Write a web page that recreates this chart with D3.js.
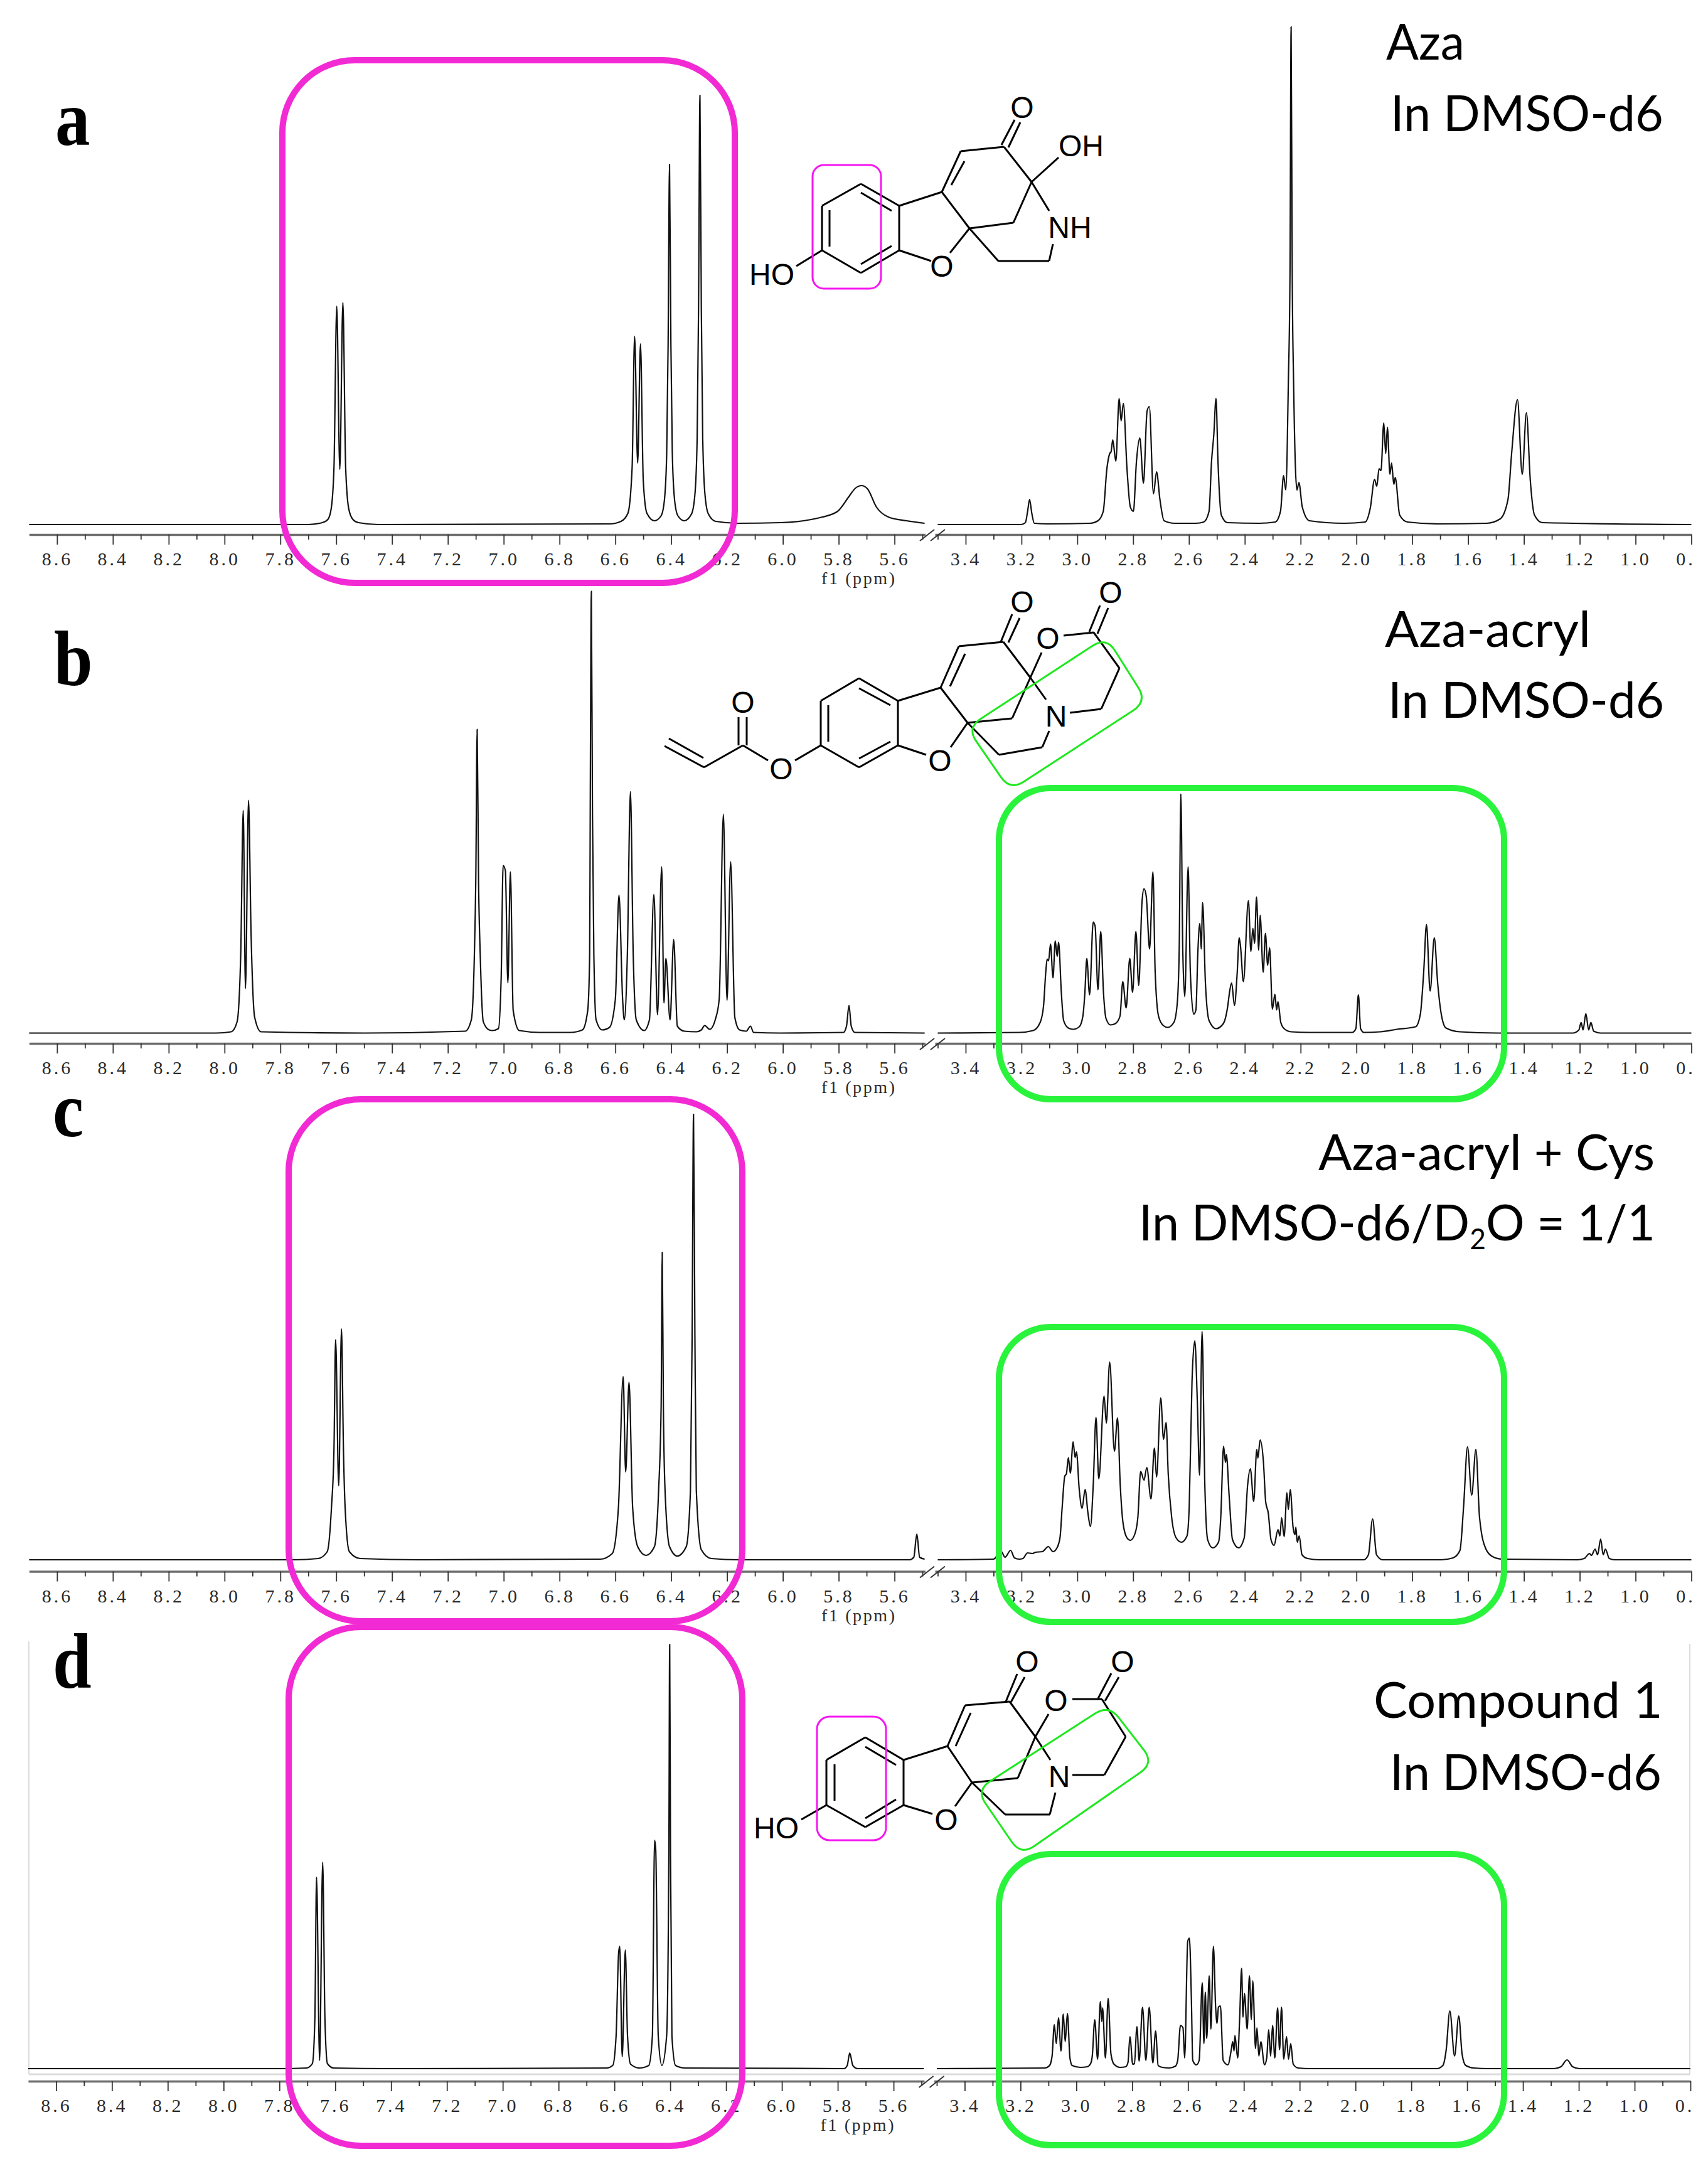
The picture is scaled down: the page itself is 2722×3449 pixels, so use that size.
<!DOCTYPE html>
<html>
<head>
<meta charset="utf-8">
<title>1H NMR spectra</title>
<script src="https://cdn.jsdelivr.net/npm/d3@7"></script>
<style>
html, body { margin: 0; padding: 0; background: #fff; }
svg { display: block; }
</style>
</head>
<body>
<div id="chart"></div>
<script>
// Spectra as [ppm, intensity]
const spectrumALeft = [[8.7,0],[7.7,0],[7.65,3],[7.63,8],[7.618,25],[7.608,90],[7.598,348],[7.587,88],[7.576,354],[7.566,90],[7.555,25],[7.54,8],[7.52,3],[7.45,0],[6.62,1],[6.58,5],[6.555,18],[6.54,90],[6.531,300],[6.52,98],[6.51,288],[6.5,70],[6.487,18],[6.46,6],[6.436,14],[6.424,40],[6.416,115],[6.411,287],[6.406,574],[6.401,287],[6.396,115],[6.388,40],[6.376,14],[6.353,6],[6.327,17],[6.315,48],[6.307,137],[6.302,342],[6.297,684],[6.292,342],[6.287,137],[6.279,48],[6.267,17],[6.24,5],[6.159,2],[6.009,3],[5.858,12],[5.804,21],[5.761,46],[5.74,58],[5.718,62],[5.697,57],[5.665,28],[5.622,12],[5.557,6],[5.492,2]];
const spectrumARight = [[3.5,0],[3.201,0],[3.186,3],[3.178,21],[3.171,40],[3.163,18],[3.154,2],[3.106,1],[2.954,2],[2.926,6],[2.907,21],[2.894,89],[2.884,113],[2.879,116],[2.873,135],[2.862,101],[2.85,201],[2.843,165],[2.835,193],[2.822,89],[2.81,28],[2.799,21],[2.788,101],[2.776,138],[2.763,66],[2.75,181],[2.742,188],[2.727,49],[2.716,84],[2.704,40],[2.689,6],[2.651,2],[2.575,2],[2.547,4],[2.528,21],[2.519,101],[2.511,143],[2.503,201],[2.496,101],[2.484,15],[2.462,3],[2.348,2],[2.291,4],[2.272,21],[2.261,78],[2.253,55],[2.244,224],[2.238,400],[2.234,793],[2.23,400],[2.225,224],[2.213,55],[2.206,67],[2.194,28],[2.168,6],[2.044,2],[1.969,4],[1.95,27],[1.935,72],[1.927,61],[1.919,89],[1.912,86],[1.902,162],[1.895,113],[1.889,155],[1.88,80],[1.874,98],[1.866,64],[1.861,75],[1.845,15],[1.817,4],[1.703,1],[1.533,2],[1.485,9],[1.457,40],[1.444,113],[1.423,199],[1.406,80],[1.391,178],[1.377,70],[1.362,15],[1.334,3],[0.8,0]];

const spectrumBLeft = [[8.7,0],[8.03,0],[7.976,2],[7.955,18],[7.942,125],[7.933,355],[7.925,71],[7.914,371],[7.905,160],[7.892,25],[7.869,2],[7.5,0],[7.138,3],[7.116,21],[7.105,125],[7.1,242],[7.095,484],[7.09,242],[7.084,125],[7.073,18],[7.052,5],[7.041,4],[7.019,7],[7.009,89],[7.002,267],[6.994,259],[6.985,80],[6.976,257],[6.966,36],[6.944,4],[6.869,1],[6.761,1],[6.718,5],[6.699,36],[6.692,125],[6.69,352],[6.686,704],[6.682,352],[6.677,125],[6.669,21],[6.647,5],[6.621,9],[6.6,54],[6.587,220],[6.574,54],[6.568,21],[6.557,125],[6.546,385],[6.536,125],[6.525,21],[6.497,4],[6.478,21],[6.462,221],[6.449,29],[6.434,265],[6.426,48],[6.419,119],[6.404,21],[6.391,149],[6.378,11],[6.353,3],[6.31,2],[6.292,5],[6.28,12],[6.262,6],[6.241,23],[6.228,54],[6.213,349],[6.2,52],[6.187,273],[6.172,25],[6.155,5],[6.131,3],[6.116,11],[6.105,1],[6.009,0],[5.783,1],[5.772,11],[5.763,44],[5.755,11],[5.742,1],[5.492,0]];
const spectrumBRight = [[3.5,0],[3.208,1],[3.158,4],[3.133,17],[3.121,43],[3.113,97],[3.108,118],[3.103,115],[3.096,142],[3.087,88],[3.079,147],[3.072,122],[3.067,145],[3.057,63],[3.049,20],[3.032,8],[3.015,6],[2.993,10],[2.98,27],[2.973,63],[2.966,119],[2.956,61],[2.943,177],[2.936,170],[2.926,69],[2.916,162],[2.906,63],[2.897,23],[2.881,13],[2.864,15],[2.847,27],[2.837,82],[2.825,40],[2.812,119],[2.802,65],[2.79,162],[2.78,76],[2.768,210],[2.761,230],[2.753,218],[2.741,134],[2.729,257],[2.721,97],[2.709,27],[2.692,12],[2.676,9],[2.654,17],[2.642,47],[2.635,130],[2.629,381],[2.622,130],[2.615,58],[2.603,265],[2.595,97],[2.583,30],[2.575,37],[2.568,130],[2.561,175],[2.556,134],[2.551,208],[2.541,80],[2.528,20],[2.503,7],[2.477,15],[2.461,43],[2.454,67],[2.447,80],[2.437,44],[2.427,97],[2.42,152],[2.415,137],[2.405,82],[2.387,211],[2.378,130],[2.371,167],[2.365,143],[2.358,217],[2.35,132],[2.345,188],[2.334,97],[2.326,159],[2.318,108],[2.311,136],[2.301,38],[2.292,62],[2.286,37],[2.281,50],[2.271,17],[2.259,7],[2.234,2],[2.167,1],[2.015,1],[2.002,7],[1.993,61],[1.985,7],[1.973,1],[1.914,2],[1.855,6],[1.788,10],[1.771,30],[1.759,97],[1.749,173],[1.736,67],[1.721,152],[1.709,80],[1.696,30],[1.679,8],[1.629,2],[1.494,0],[1.225,0],[1.203,5],[1.195,17],[1.188,5],[1.178,31],[1.168,5],[1.16,17],[1.15,3],[1.125,0],[0.8,0]];

const spectrumCLeft = [[8.7,0],[7.75,0],[7.665,2],[7.632,13],[7.617,83],[7.608,175],[7.602,351],[7.591,118],[7.581,368],[7.574,175],[7.568,83],[7.553,13],[7.514,2],[7.3,0],[6.654,1],[6.611,10],[6.589,83],[6.572,292],[6.563,140],[6.551,283],[6.538,83],[6.52,21],[6.49,7],[6.46,21],[6.445,111],[6.436,245],[6.432,490],[6.428,245],[6.422,111],[6.406,21],[6.378,6],[6.346,21],[6.331,111],[6.325,355],[6.32,710],[6.315,355],[6.31,111],[6.292,16],[6.256,2],[6.159,0],[5.546,0],[5.531,4],[5.52,41],[5.51,4],[5.492,1]];
const spectrumCRight = [[3.5,0],[3.301,1],[3.272,13],[3.259,4],[3.239,15],[3.225,3],[3.208,1],[3.195,2],[3.178,11],[3.161,10],[3.15,12],[3.125,13],[3.104,21],[3.087,13],[3.074,18],[3.062,35],[3.054,85],[3.045,133],[3.039,137],[3.032,163],[3.025,138],[3.015,188],[3.008,163],[3.003,172],[2.993,112],[2.983,82],[2.972,112],[2.962,75],[2.953,53],[2.943,118],[2.933,227],[2.923,129],[2.904,261],[2.896,218],[2.884,315],[2.867,173],[2.856,226],[2.846,118],[2.836,58],[2.822,35],[2.81,31],[2.793,42],[2.783,68],[2.773,141],[2.761,127],[2.751,147],[2.736,97],[2.724,178],[2.716,132],[2.701,258],[2.691,192],[2.682,219],[2.674,135],[2.662,68],[2.646,35],[2.627,28],[2.607,38],[2.599,85],[2.589,285],[2.579,349],[2.57,252],[2.562,135],[2.553,364],[2.543,118],[2.533,32],[2.515,19],[2.494,28],[2.486,68],[2.476,181],[2.469,155],[2.466,168],[2.456,102],[2.444,32],[2.422,19],[2.402,35],[2.39,118],[2.38,145],[2.368,93],[2.357,176],[2.353,162],[2.345,191],[2.333,155],[2.325,92],[2.316,75],[2.306,32],[2.295,23],[2.281,48],[2.274,38],[2.268,67],[2.259,37],[2.249,107],[2.244,80],[2.237,112],[2.227,52],[2.22,40],[2.217,52],[2.212,28],[2.205,38],[2.195,8],[2.175,2],[2.133,0],[1.974,0],[1.957,8],[1.942,65],[1.928,8],[1.906,0],[1.696,0],[1.654,3],[1.629,15],[1.616,85],[1.602,180],[1.587,103],[1.572,176],[1.559,68],[1.537,18],[1.512,5],[1.478,1],[1.209,0],[1.184,2],[1.165,10],[1.158,7],[1.145,17],[1.136,8],[1.125,33],[1.116,8],[1.108,17],[1.094,2],[1.074,0],[0.8,0]];

const spectrumDLeft = [[8.7,0],[7.8,0],[7.703,1],[7.682,8],[7.673,80],[7.667,305],[7.656,13],[7.645,329],[7.637,80],[7.628,8],[7.606,1],[7.4,0],[6.628,1],[6.606,5],[6.594,52],[6.585,184],[6.581,195],[6.572,19],[6.561,189],[6.553,52],[6.542,7],[6.51,1],[6.477,5],[6.464,52],[6.456,364],[6.452,349],[6.443,52],[6.43,5],[6.413,52],[6.405,338],[6.402,676],[6.399,338],[6.394,52],[6.381,5],[6.348,1],[5.778,0],[5.766,5],[5.757,25],[5.746,5],[5.729,0],[5.492,0]];
const spectrumDRight = [[3.5,0],[3.113,1],[3.096,5],[3.087,20],[3.079,70],[3.072,40],[3.064,81],[3.055,28],[3.047,87],[3.04,43],[3.032,88],[3.023,17],[3.015,5],[2.986,2],[2.961,3],[2.949,8],[2.943,20],[2.934,78],[2.924,15],[2.914,107],[2.909,75],[2.906,97],[2.896,17],[2.886,112],[2.876,23],[2.865,7],[2.844,2],[2.823,3],[2.815,10],[2.808,51],[2.798,7],[2.792,8],[2.783,67],[2.775,12],[2.763,98],[2.751,13],[2.739,98],[2.726,9],[2.716,60],[2.707,5],[2.692,2],[2.667,1],[2.645,4],[2.637,13],[2.627,69],[2.618,65],[2.612,17],[2.601,203],[2.595,208],[2.588,113],[2.583,13],[2.57,6],[2.56,13],[2.549,137],[2.543,40],[2.538,122],[2.533,48],[2.524,148],[2.518,63],[2.509,195],[2.501,98],[2.496,72],[2.491,98],[2.484,100],[2.474,13],[2.457,6],[2.445,30],[2.44,43],[2.435,28],[2.432,53],[2.422,17],[2.415,80],[2.408,160],[2.403,82],[2.398,120],[2.388,63],[2.38,148],[2.373,78],[2.368,140],[2.358,32],[2.353,65],[2.346,20],[2.339,43],[2.326,6],[2.318,17],[2.311,62],[2.304,20],[2.297,69],[2.289,17],[2.279,97],[2.272,30],[2.265,98],[2.257,15],[2.247,51],[2.24,15],[2.232,40],[2.223,7],[2.205,1],[2.163,0],[1.709,0],[1.687,5],[1.675,30],[1.662,92],[1.645,20],[1.63,84],[1.618,23],[1.605,5],[1.575,1],[1.524,0],[1.289,0],[1.264,3],[1.242,14],[1.222,3],[1.197,0],[0.8,0]];

// Axis ticks
const leftMajorTicks = [8.6,8.4,8.2,8.0,7.8,7.6,7.4,7.2,7.0,6.8,6.6,6.4,6.2,6.0,5.8,5.6];
const leftMinorTicks = [8.5,8.3,8.1,7.9,7.7,7.5,7.3,7.1,6.9,6.7,6.5,6.3,6.1,5.9,5.7,5.5];
const rightMajorTicks = [3.4,3.2,3.0,2.8,2.6,2.4,2.2,2.0,1.8,1.6,1.4,1.2,1.0,0.8];
const rightMinorTicks = [3.5,3.3,3.1,2.9,2.7,2.5,2.3,2.1,1.9,1.7,1.5,1.3,1.1,0.9];

// Structures, drawn as plain bond segments and atom labels
const bondsA = [[1310,328,1372,293],[1372,293,1433,328],[1433,328,1433,399],[1433,399,1372,435],[1372,435,1310,399],[1310,399,1310,328],[1322,335,1322,393],[1372,307,1421,336],[1372,421,1421,392],[1269,424,1310,399],[1433,328,1501,306],[1501,306,1545,364],[1545,364,1514,403],[1433,399,1484,416],[1501,306,1531,241],[1516,295,1537,257],[1531,241,1600,234],[1596,231,1617,191],[1607,235,1626,195],[1600,234,1644,290],[1644,290,1687,251],[1644,290,1615,355],[1615,355,1545,364],[1644,290,1672,336],[1678,389,1672,416],[1672,416,1591,416],[1591,416,1545,364]];
const labelsA = [["HO",1230,437],["O",1501,424],["O",1629,171],["OH",1723,232],["NH",1705,362]];

const bondsB = [[1059,1189,1122,1223],[1066,1177,1121,1208],[1122,1223,1184,1188],[1177,1188,1177,1143],[1190,1188,1190,1143],[1184,1188,1224,1212],[1267,1212,1308,1188],[1308,1188,1308,1117],[1308,1117,1369,1081],[1369,1081,1431,1117],[1431,1117,1431,1188],[1431,1188,1369,1223],[1369,1223,1308,1188],[1320,1124,1320,1182],[1369,1097,1419,1124],[1369,1209,1419,1182],[1431,1117,1499,1096],[1499,1096,1542,1152],[1542,1152,1515,1191],[1431,1188,1476,1203],[1499,1096,1528,1030],[1514,1094,1538,1042],[1528,1030,1599,1023],[1595,1023,1613,979],[1607,1024,1625,985],[1599,1023,1642,1080],[1642,1080,1667,1115],[1642,1080,1660,1040],[1642,1080,1613,1145],[1613,1145,1542,1152],[1542,1152,1592,1203],[1592,1203,1661,1191],[1661,1191,1672,1165],[1705,1136,1755,1130],[1755,1130,1784,1065],[1784,1065,1743,1008],[1743,1008,1695,1013],[1736,1007,1753,965],[1749,1010,1766,969]];
const labelsB = [["O",1184,1119],["O",1245,1225],["O",1498,1212],["O",1629,959],["N",1683,1141],["O",1670,1017],["O",1770,944]];

const bondsD = [[1317,2805,1379,2769],[1379,2769,1440,2805],[1440,2805,1440,2877],[1440,2877,1379,2912],[1379,2912,1317,2877],[1317,2877,1317,2805],[1330,2812,1330,2870],[1379,2784,1428,2813],[1379,2898,1428,2868],[1277,2900,1317,2877],[1440,2805,1510,2783],[1510,2783,1549,2841],[1549,2841,1522,2879],[1440,2877,1486,2891],[1510,2783,1538,2718],[1523,2783,1547,2730],[1538,2718,1609,2712],[1603,2712,1621,2668],[1611,2713,1633,2673],[1609,2712,1650,2768],[1650,2768,1674,2805],[1650,2768,1671,2732],[1650,2768,1622,2834],[1622,2834,1549,2841],[1549,2841,1602,2892],[1602,2892,1673,2892],[1673,2892,1682,2857],[1709,2829,1760,2829],[1760,2829,1794,2768],[1794,2768,1756,2708],[1756,2708,1709,2708],[1750,2707,1771,2667],[1761,2711,1783,2673]];
const labelsD = [["HO",1237,2913],["O",1508,2900],["O",1637,2648],["N",1688,2831],["O",1683,2710],["O",1789,2648]];

// Highlight boxes: x, y, width, height, radius
const pinkBoxes = [[450,96,721,833,115],[460,1752,723,832,115],[460,2593,723,827,115]];
const greenBoxes = [[1592,1256,805,496,82],[1592,2115,805,470,82],[1592,2955,805,464,82]];
const smallPinkBoxes = [[1295,263,109,197,18],[1302,2736,110,197,20]];
// Rotated small green boxes, four corners
const smallGreenBoxes = [[[1763,1015],[1828,1118],[1610,1260],[1541,1160]],[[1767,2717],[1839,2810],[1627,2957],[1556,2853]]];

const pink = "#f22ad4";
const green = "#2af33c";
const smallPink = "#f516f0";
const smallGreen = "#1fe81f";
const ink = "#111";

const width = 2722;
const height = 3449;

const panels = [
    { letter: "a", letterX: 88, letterY: 231, left: spectrumALeft, right: spectrumARight, baseline: 836, axisY: 852, shift: 0 },
    { letter: "b", letterX: 86, letterY: 1092, left: spectrumBLeft, right: spectrumBRight, baseline: 1646.5, axisY: 1663, shift: 0 },
    { letter: "c", letterX: 84, letterY: 1811, left: spectrumCLeft, right: spectrumCRight, baseline: 2486, axisY: 2504.5, shift: 0 },
    { letter: "d", letterX: 84, letterY: 2690, left: spectrumDLeft, right: spectrumDRight, baseline: 3297, axisY: 3317, shift: -1.5 }
];

// text, left edge, right edge, baseline
const captions = [
    ["Aza", 2209, 2334, 95],
    ["In DMSO-d6", 2216, 2651, 209],
    ["Aza-acryl", 2207, 2535, 1031],
    ["In DMSO-d6", 2212, 2652, 1144],
    ["Aza-acryl + Cys", 2101, 2637, 1865],
    ["In DMSO-d6/D2O = 1/1", 1815, 2638, 1977],
    ["Compound 1", 2189, 2650, 2738],
    ["In DMSO-d6", 2215, 2648, 2853]
];

const svg = d3.select("#chart").append("svg")
    .attr("width", width)
    .attr("height", height)
    .attr("viewBox", `0 0 ${width} ${height}`);

svg.append("rect").attr("width", width).attr("height", height).attr("fill", "#fff");

svg.append("defs").append("clipPath").attr("id", "page-clip")
    .append("rect").attr("x", 0).attr("y", 0).attr("width", 2697).attr("height", height);

// The faint frame around panel d
const frame = svg.append("g").attr("stroke", "#dcdcdc").attr("stroke-width", 2);
frame.append("line").attr("x1", 46).attr("x2", 46).attr("y1", 2616).attr("y2", 3306);
frame.append("line").attr("x1", 2693).attr("x2", 2693).attr("y1", 2620).attr("y2", 3306);
frame.append("line").attr("x1", 46).attr("x2", 2693).attr("y1", 3306).attr("y2", 3306).attr("stroke-width", 3);

function drawAxis(group, scale, majorTicks, minorTicks, y) {
    const major = group.append("g")
        .attr("transform", `translate(0,${y})`)
        .call(d3.axisBottom(scale).tickValues(majorTicks).tickSizeInner(16).tickSizeOuter(0).tickFormat(d3.format(".1f")));
    major.select(".domain").attr("stroke", "#6e6e6e").attr("stroke-width", 3.5);
    major.selectAll(".tick line").attr("stroke", "#333").attr("stroke-width", 1.8);
    major.selectAll(".tick text")
        .attr("y", 49).attr("dy", 0)
        .attr("fill", "#2a2a2a")
        .attr("font-family", "'Liberation Serif', serif")
        .attr("font-size", 30)
        .attr("letter-spacing", 4);

    const minor = group.append("g")
        .attr("transform", `translate(0,${y})`)
        .call(d3.axisBottom(scale).tickValues(minorTicks).tickSizeInner(8).tickSizeOuter(0).tickFormat(""));
    minor.select(".domain").remove();
    minor.selectAll(".tick line").attr("stroke", "#333").attr("stroke-width", 1.8);
}

panels.forEach((p) => {
    const xLeft = d3.scaleLinear().domain([8.7, 5.49]).range([46.4 + p.shift, 1474.5 + p.shift]);
    const xRight = d3.scaleLinear().domain([3.51, 0.8]).range([1490 + p.shift, 2695.5 + p.shift]);
    const y = d3.scaleLinear().domain([0, 800]).range([p.baseline, p.baseline - 800]);

    const panel = svg.append("g").attr("class", "panel-" + p.letter);

    const lineLeft = d3.line().x(d => xLeft(d[0])).y(d => y(d[1])).curve(d3.curveMonotoneX);
    const lineRight = d3.line().x(d => xRight(d[0])).y(d => y(d[1])).curve(d3.curveMonotoneX);

    panel.append("path").attr("d", lineLeft(p.left))
        .attr("fill", "none").attr("stroke", ink).attr("stroke-width", 2.2);
    panel.append("path").attr("d", lineRight(p.right))
        .attr("fill", "none").attr("stroke", ink).attr("stroke-width", 2.2);

    drawAxis(panel.append("g"), xLeft, leftMajorTicks, leftMinorTicks, p.axisY);
    drawAxis(panel.append("g").attr("clip-path", "url(#page-clip)"), xRight, rightMajorTicks, rightMinorTicks, p.axisY);

    // The axis break
    [0, 17].forEach((dx) => {
        panel.append("line")
            .attr("x1", 1466 + dx + p.shift).attr("y1", p.axisY + 10)
            .attr("x2", 1489 + dx + p.shift).attr("y2", p.axisY - 8)
            .attr("stroke", "#333").attr("stroke-width", 2);
    });

    panel.append("text")
        .attr("x", 1309 + p.shift).attr("y", p.axisY + 79)
        .attr("font-family", "'Liberation Serif', serif")
        .attr("font-size", 28)
        .attr("fill", "#2a2a2a")
        .attr("textLength", 117)
        .attr("lengthAdjust", "spacing")
        .text("f1 (ppm)");

    // The panel letters are narrower than a plain bold serif
    svg.append("text")
        .attr("transform", `translate(${p.letterX},${p.letterY}) scale(0.88,1)`)
        .attr("font-family", "'Liberation Serif', serif")
        .attr("font-weight", "bold")
        .attr("font-size", 126)
        .attr("fill", "#000")
        .text(p.letter);
});

function drawMolecule(bonds, labels) {
    const mol = svg.append("g");
    mol.selectAll("line").data(bonds).join("line")
        .attr("x1", d => d[0]).attr("y1", d => d[1])
        .attr("x2", d => d[2]).attr("y2", d => d[3])
        .attr("stroke", "#000").attr("stroke-width", 3);
    mol.selectAll("text").data(labels).join("text")
        .attr("x", d => d[1]).attr("y", d => d[2])
        .attr("dy", "0.36em")
        .attr("text-anchor", "middle")
        .attr("font-family", "'Liberation Sans', sans-serif")
        .attr("font-size", 48)
        .attr("fill", "#000")
        .text(d => d[0]);
}
drawMolecule(bondsA, labelsA);
drawMolecule(bondsB, labelsB);
drawMolecule(bondsD, labelsD);

function drawBoxes(boxes, color, strokeWidth) {
    svg.append("g").selectAll("rect").data(boxes).join("rect")
        .attr("x", d => d[0]).attr("y", d => d[1])
        .attr("width", d => d[2]).attr("height", d => d[3])
        .attr("rx", d => d[4]).attr("ry", d => d[4])
        .attr("fill", "none")
        .attr("stroke", color)
        .attr("stroke-width", strokeWidth);
}
drawBoxes(smallPinkBoxes, smallPink, 3);
drawBoxes(pinkBoxes, pink, 10);
drawBoxes(greenBoxes, green, 10);

// Rounded quadrilateral through the four corners
function roundedQuad(corners, r) {
    const n = corners.length;
    const toward = (a, b, dist) => {
        const len = Math.hypot(b[0] - a[0], b[1] - a[1]);
        return [a[0] + (b[0] - a[0]) * dist / len, a[1] + (b[1] - a[1]) * dist / len];
    };
    const path = d3.path();
    corners.forEach((c, i) => {
        const prev = corners[(i + n - 1) % n];
        const next = corners[(i + 1) % n];
        const start = toward(c, prev, r);
        const end = toward(c, next, r);
        if (i === 0) path.moveTo(start[0], start[1]);
        else path.lineTo(start[0], start[1]);
        path.quadraticCurveTo(c[0], c[1], end[0], end[1]);
    });
    path.closePath();
    return path.toString();
}
svg.append("g").selectAll("path").data(smallGreenBoxes).join("path")
    .attr("d", d => roundedQuad(d, 26))
    .attr("fill", "none")
    .attr("stroke", smallGreen)
    .attr("stroke-width", 3);

// Captions, squeezed to the width they have in the reference
captions.forEach(([label, x0, x1, base]) => {
    const t = svg.append("text")
        .attr("font-family", "Lato, sans-serif")
        .attr("font-size", 80)
        .attr("fill", "#000");
    const sub = label.indexOf("D2O");
    if (sub >= 0) {
        t.append("tspan").text(label.slice(0, sub + 1));
        t.append("tspan").attr("font-size", 46).attr("dy", 14).text("2");
        t.append("tspan").attr("dy", -14).text(label.slice(sub + 2));
    } else {
        t.text(label);
    }
    const w = t.node().getComputedTextLength();
    t.attr("transform", `translate(${x0},${base}) scale(${(x1 - x0) / w},1)`);
});
</script>
</body>
</html>
